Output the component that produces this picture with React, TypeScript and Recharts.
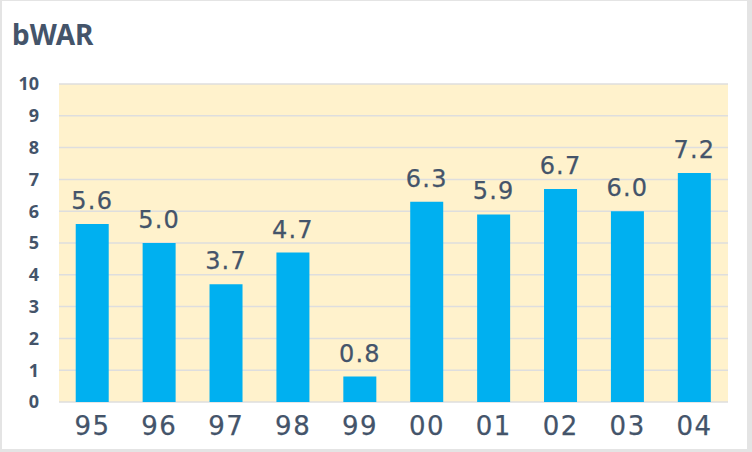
import React from "react";
import { BarChart, Bar, XAxis, YAxis, CartesianGrid, LabelList } from "recharts";

const categories = ["95", "96", "97", "98", "99", "00", "01", "02", "03", "04"];
const bwar = [5.6, 5.0, 3.7, 4.7, 0.8, 6.3, 5.9, 6.7, 6.0, 7.2];
const yTicks = [0, 1, 2, 3, 4, 5, 6, 7, 8, 9, 10];

const data = categories.map((c, i) => ({ year: c, value: bwar[i] }));

const TEXT = "#44546A";
const FONT = "'Noto Sans', 'DejaVu Sans', sans-serif";
const WIDE = "'DejaVu Sans', 'Noto Sans', sans-serif";

export default function App() {
  return (
    <div
      style={{
        position: "absolute",
        left: 0,
        top: 0,
        width: 752,
        height: 452,
        background: "#E4E4E4",
        fontFamily: FONT,
      }}
    >
      <div
        style={{
          position: "absolute",
          left: 2,
          top: 1,
          width: 745,
          height: 448,
          background: "#FFFFFF",
        }}
      />
      <div
        style={{
          position: "absolute",
          left: 12,
          top: 14,
          fontSize: 28,
          fontWeight: 700,
          color: TEXT,
          lineHeight: "40px",
        }}
      >
        bWAR
      </div>
      <div style={{ position: "absolute", left: 0, top: 0 }}>
        <BarChart
          width={752}
          height={452}
          data={data}
          margin={{ top: 84, right: 24, bottom: 0, left: 0 }}
          barCategoryGap="25%"
        >
          <CartesianGrid
            vertical={false}
            fill="#FFF2CC"
            stroke="#DEDEDE"
            strokeWidth={1.5}
          />
          <XAxis
            dataKey="year"
            axisLine={false}
            tickLine={false}
            height={50}
            tickMargin={9}
            tick={{
              fill: TEXT,
              stroke: TEXT,
              strokeWidth: 0.25,
              fontSize: 26,
              fontFamily: WIDE,
              letterSpacing: 1.5,
            }}
          />
          <YAxis
            domain={[0, 10]}
            ticks={yTicks}
            interval={0}
            axisLine={false}
            tickLine={false}
            width={59}
            tickMargin={14}
            tick={{ fill: TEXT, fontSize: 18, fontWeight: 700, fontFamily: FONT }}
          />
          <Bar dataKey="value" fill="#00B0F0" isAnimationActive={false}>
            <LabelList
              dataKey="value"
              position="top"
              offset={15}
              formatter={(v: number) => v.toFixed(1)}
              style={{
                fill: TEXT,
                stroke: TEXT,
                strokeWidth: 0.25,
                fontSize: 24,
                fontFamily: WIDE,
                letterSpacing: 1.2,
              }}
            />
          </Bar>
        </BarChart>
      </div>
    </div>
  );
}
